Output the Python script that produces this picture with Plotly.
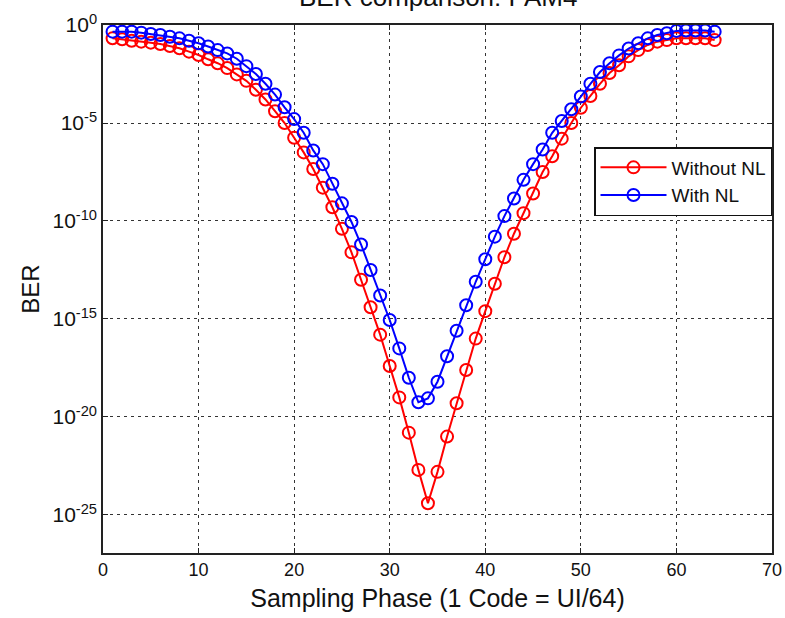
import plotly.graph_objects as go

phase = list(range(1, 65))

# log10(BER)
log_ber_without_nl = [
    -0.68, -0.73, -0.80, -0.85, -0.90, -0.97, -1.07, -1.19, -1.36, -1.53,
    -1.75, -1.95, -2.20, -2.52, -2.85, -3.30, -3.80, -4.40, -5.00, -5.75,
    -6.50, -7.35, -8.30, -9.30, -10.40, -11.60, -13.00, -14.40, -15.80, -17.40,
    -19.00, -20.80, -22.70, -24.40, -22.80, -21.00, -19.30, -17.60, -16.00, -14.60,
    -13.20, -11.85, -10.65, -9.60, -8.60, -7.50, -6.70, -5.80, -5.00, -4.22,
    -3.62, -3.00, -2.45, -2.05, -1.60, -1.28, -1.02, -0.85, -0.77, -0.68,
    -0.68, -0.68, -0.68, -0.77,
]
log_ber_with_nl = [
    -0.34, -0.34, -0.34, -0.39, -0.46, -0.51, -0.60, -0.68, -0.80, -0.93,
    -1.10, -1.28, -1.45, -1.72, -2.10, -2.50, -3.00, -3.55, -4.20, -4.80,
    -5.50, -6.40, -7.10, -8.10, -9.10, -10.05, -11.20, -12.50, -13.80, -15.05,
    -16.50, -18.00, -19.25, -19.05, -18.20, -16.90, -15.60, -14.30, -13.10, -11.95,
    -10.80, -9.75, -8.85, -7.90, -7.10, -6.35, -5.50, -4.90, -4.30, -3.65,
    -3.00, -2.40, -1.95, -1.55, -1.20, -0.93, -0.68, -0.51, -0.42, -0.30,
    -0.28, -0.28, -0.28, -0.34,
]

y_tick_exponents = [0, -5, -10, -15, -20, -25]
y_tick_labels = ["10<sup>0</sup>", "10<sup>-5</sup>", "10<sup>-10</sup>",
                 "10<sup>-15</sup>", "10<sup>-20</sup>", "10<sup>-25</sup>"]
x_tick_values = [0, 10, 20, 30, 40, 50, 60, 70]

ber_without_nl = [10 ** v for v in log_ber_without_nl]
ber_with_nl = [10 ** v for v in log_ber_with_nl]

FONT = "Liberation Sans, Arial, Helvetica, sans-serif"

fig = go.Figure()
fig.add_trace(go.Scatter(
    x=phase, y=ber_without_nl, name="Without NL", mode="lines+markers",
    line=dict(color="#ff0000", width=2),
    marker=dict(symbol="circle-open", size=12, color="#ff0000", line=dict(width=2, color="#ff0000")),
))
fig.add_trace(go.Scatter(
    x=phase, y=ber_with_nl, name="With NL", mode="lines+markers",
    line=dict(color="#0000ff", width=2),
    marker=dict(symbol="circle-open", size=12, color="#0000ff", line=dict(width=2, color="#0000ff")),
))

axis_common = dict(
    showline=True, linecolor="#222222", linewidth=1.5, mirror="ticks",
    ticks="inside", ticklen=5, tickcolor="#222222",
    showgrid=True, gridcolor="#333333", gridwidth=1, griddash="3px,4px",
    zeroline=False,
)

fig.update_layout(
    width=785, height=618,
    margin=dict(l=103, r=13, t=25, b=65, autoexpand=False),
    paper_bgcolor="white", plot_bgcolor="white",
    font=dict(family=FONT, color="#111111"),
    showlegend=True,
    legend=dict(
        x=1.0, xanchor="right", y=(553 - 147) / 528, yanchor="top",
        bgcolor="white", bordercolor="#111111", borderwidth=1.5,
        font=dict(family=FONT, size=19, color="#111111"),
        itemwidth=66, tracegroupgap=4,
    ),
    annotations=[dict(
        text="BER comparison: PAM4", xref="paper", yref="paper",
        x=0.5, y=(553 + 3) / 528, xanchor="center", yanchor="middle",
        showarrow=False, font=dict(family=FONT, size=26, color="#111111"),
    )],
)
fig.update_xaxes(
    range=[0, 70], tickvals=x_tick_values,
    tickfont=dict(family=FONT, size=18, color="#111111"),
    title=dict(text="Sampling Phase (1 Code = UI/64)", font=dict(family=FONT, size=25), standoff=10),
    **axis_common,
)
fig.update_yaxes(
    type="log", range=[-26.94, 0],
    tickvals=[10 ** e for e in y_tick_exponents], ticktext=y_tick_labels,
    tickfont=dict(family=FONT, size=21, color="#111111"),
    title=dict(text="BER", font=dict(family=FONT, size=24), standoff=6),
    **axis_common,
)

fig.write_html("out.html")
